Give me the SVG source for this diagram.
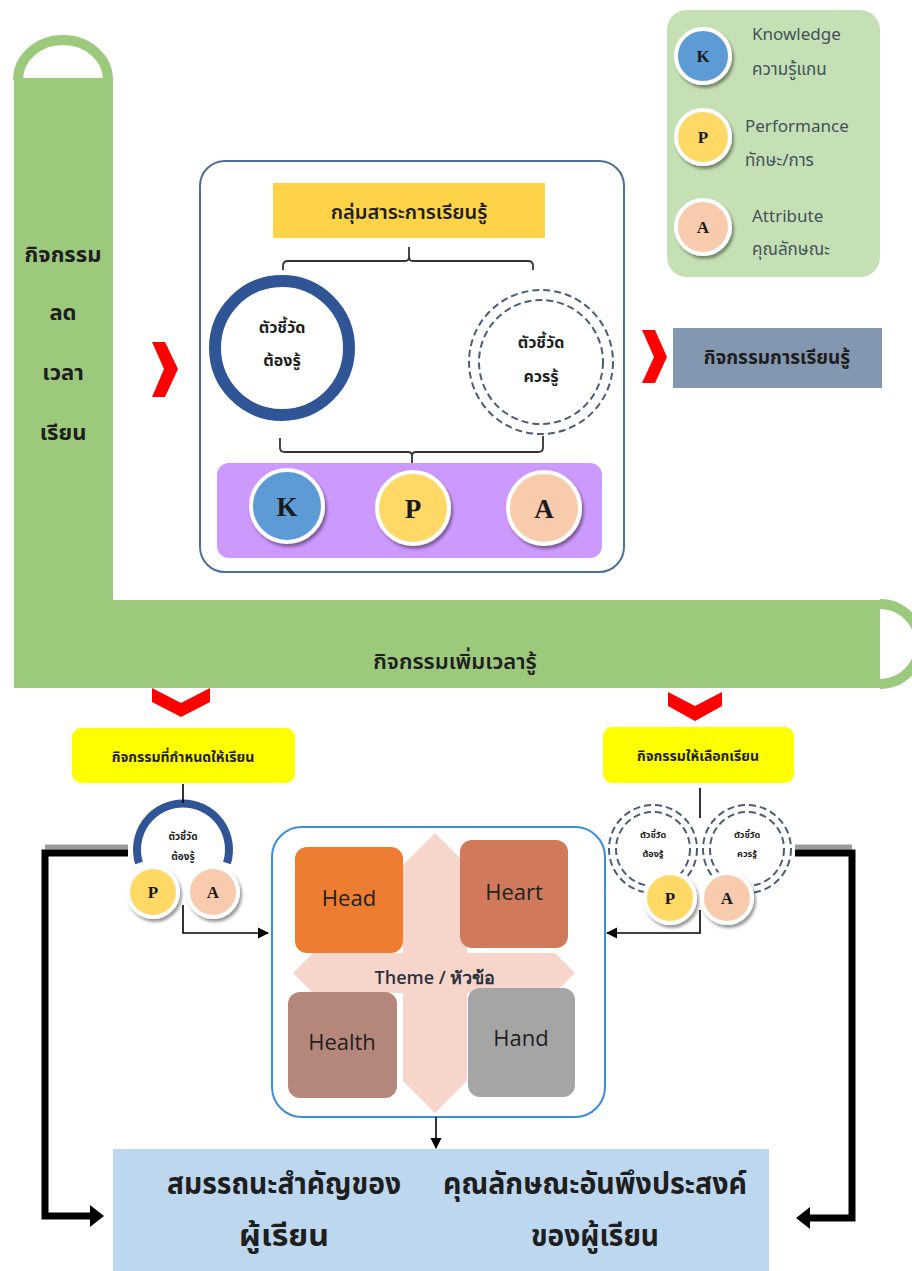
<svg xmlns="http://www.w3.org/2000/svg" width="912" height="1271" viewBox="0 0 912 1271">
<defs>
<style>
.th{font-family:"Noto Sans Thai","Noto Sans","DejaVu Sans",sans-serif;fill:#1e1e1e;text-anchor:middle}
.b{font-weight:bold}
.leg{font-family:"Noto Sans Thai","Open Sans","Noto Sans","DejaVu Sans",sans-serif;fill:#44505c;font-size:17px}
.ltr{font-family:"Liberation Serif",serif;font-size:27px;font-weight:bold;fill:#1a1a1a;text-anchor:middle}
.ltrs{font-family:"Liberation Serif",serif;font-size:17px;font-weight:bold;fill:#1a1a1a;text-anchor:middle}
.sq{font-family:"Open Sans","Liberation Sans",sans-serif;font-size:22px;fill:#1f1f1f;text-anchor:middle}
.kc{stroke:#fff;stroke-width:4;filter:url(#sh)}
.dash{fill:none;stroke:#4a5d78;stroke-width:2;stroke-dasharray:7 4}
.thin{fill:none;stroke:#000;stroke-width:1.6}
.thick{fill:none;stroke:#000;stroke-width:7}
.shade{fill:none;stroke:#9a9a9a;stroke-width:5}
.brk{fill:none;stroke:#333;stroke-width:1.8}
</style>
<filter id="sh" x="-30%" y="-30%" width="160%" height="160%">
<feDropShadow dx="2" dy="3" stdDeviation="1.5" flood-color="#000" flood-opacity="0.4"/>
</filter>
<marker id="ah" viewBox="0 0 10 10" refX="9" refY="5" markerWidth="7" markerHeight="7" orient="auto">
<path d="M0,0 L10,5 L0,10 z" fill="#000"/>
</marker>
</defs>

<g id="green-frame">
<path d="M14,78 L14,688 L880,688 L880,600 L113,600 L113,78 Z" fill="#9cc97c"/>
<path d="M18,80 A45,40 0 0 1 108,80" fill="none" stroke="#9cc97c" stroke-width="10"/>
<path d="M880,604 A40,40 0 0 1 880,684" fill="none" stroke="#9cc97c" stroke-width="10"/>
<text class="th b" font-size="22" x="63" y="262">กิจกรรม</text>
<text class="th b" font-size="22" x="63" y="320">ลด</text>
<text class="th b" font-size="22" x="63" y="380">เวลา</text>
<text class="th b" font-size="22" x="63" y="440">เรียน</text>
<text class="th" font-size="22" font-weight="600" x="455" y="669">กิจกรรมเพิ่มเวลารู้</text>
</g>

<g id="legend">
<rect x="667" y="10" width="213" height="267" rx="20" fill="#c5e0b4"/>
<circle class="kc" cx="703" cy="56" r="27" fill="#5b9bd5"/>
<text class="ltrs" x="703" y="62">K</text>
<circle class="kc" cx="703" cy="137" r="27" fill="#ffd966"/>
<text class="ltrs" x="703" y="143">P</text>
<circle class="kc" cx="703" cy="227" r="27" fill="#f8cbad"/>
<text class="ltrs" x="703" y="233">A</text>
<text class="leg" x="752" y="40">Knowledge</text>
<text class="leg" x="752" y="75">ความรู้แกน</text>
<text class="leg" x="745" y="132">Performance</text>
<text class="leg" x="745" y="166">ทักษะ/การ</text>
<text class="leg" x="752" y="222">Attribute</text>
<text class="leg" x="752" y="255">คุณลักษณะ</text>
</g>

<g id="main-box">
<rect x="200" y="161" width="424" height="411" rx="25" fill="#fff" stroke="#4a6f98" stroke-width="2"/>
</g>

<g id="subject-group">
<rect x="273" y="183" width="272" height="55" fill="#ffd347"/>
<text class="th" font-size="20" font-weight="600" x="409" y="219">กลุ่มสาระการเรียนรู้</text>
</g>

<g id="indicator-must">
<circle cx="282" cy="348" r="67" fill="#fff" stroke="#2f5597" stroke-width="12"/>
<text class="th b" font-size="16" x="282" y="333">ตัวชี้วัด</text>
<text class="th b" font-size="16" x="282" y="366">ต้องรู้</text>
</g>

<g id="indicator-should">
<circle class="dash" cx="541" cy="362" r="72"/>
<circle class="dash" cx="541" cy="362" r="62"/>
<text class="th b" font-size="16" x="541" y="348">ตัวชี้วัด</text>
<text class="th b" font-size="16" x="541" y="382">ควรรู้</text>
</g>

<g id="kpa">
<rect x="217" y="463" width="385" height="95" rx="12" fill="#cc99ff"/>
<circle class="kc" cx="287" cy="506" r="36" fill="#5b9bd5"/>
<text class="ltr" x="287" y="516">K</text>
<circle class="kc" cx="413" cy="508" r="36" fill="#ffd966"/>
<text class="ltr" x="413" y="518">P</text>
<circle class="kc" cx="544" cy="508" r="36" fill="#f8cbad"/>
<text class="ltr" x="544" y="518">A</text>
</g>

<g id="learning-activity">
<rect x="673" y="328" width="209" height="60" fill="#8497b0"/>
<text class="th b" font-size="19" x="777" y="364">กิจกรรมการเรียนรู้</text>
</g>

<g id="assigned-activity">
<rect x="72" y="728" width="223" height="55" rx="9" fill="#ffff00"/>
<text class="th b" font-size="14" x="183" y="762">กิจกรรมที่กำหนดให้เรียน</text>
<path d="M139,863 A46,46 0 1 1 227,863" fill="none" stroke="#2f5597" stroke-width="8"/>
<text class="th b" font-size="10" x="183" y="840">ตัวชี้วัด</text>
<text class="th b" font-size="10" x="183" y="860">ต้องรู้</text>
<circle class="kc" cx="153" cy="892" r="25" fill="#ffd966"/>
<text class="ltrs" x="153" y="898">P</text>
<circle class="kc" cx="213" cy="892" r="25" fill="#f8cbad"/>
<text class="ltrs" x="213" y="898">A</text>
</g>

<g id="elective-activity">
<rect x="603" y="727" width="191" height="56" rx="9" fill="#ffff00"/>
<text class="th b" font-size="14" x="698" y="761">กิจกรรมให้เลือกเรียน</text>
<circle class="dash" cx="653" cy="849" r="44" stroke-dasharray="5 3"/>
<circle class="dash" cx="653" cy="849" r="37" stroke-dasharray="5 3"/>
<circle class="dash" cx="747" cy="849" r="44" stroke-dasharray="5 3"/>
<circle class="dash" cx="747" cy="849" r="37" stroke-dasharray="5 3"/>
<text class="th b" font-size="9" x="653" y="838">ตัวชี้วัด</text>
<text class="th b" font-size="9" x="653" y="857">ต้องรู้</text>
<text class="th b" font-size="9" x="747" y="838">ตัวชี้วัด</text>
<text class="th b" font-size="9" x="747" y="857">ควรรู้</text>
<circle class="kc" cx="670" cy="898" r="25" fill="#ffd966"/>
<text class="ltrs" x="670" y="904">P</text>
<circle class="kc" cx="727" cy="898" r="25" fill="#f8cbad"/>
<text class="ltrs" x="727" y="904">A</text>
</g>

<g id="theme">
<rect x="272" y="827" width="333" height="290" rx="30" fill="#fff" stroke="#3a8dd8" stroke-width="2"/>
<polygon points="435,833 467,865 467,953 555,953 575,973 555,993 467,993 467,1081 435,1113 403,1081 403,993 313,993 293,973 313,953 403,953 403,865" fill="#f8d5ca"/>
<rect x="295" y="847" width="108" height="106" rx="12" fill="#ed7d31"/>
<text class="sq" x="349" y="906">Head</text>
<rect x="460" y="840" width="108" height="108" rx="12" fill="#d17a5b"/>
<text class="sq" x="514" y="900">Heart</text>
<rect x="288" y="992" width="109" height="106" rx="12" fill="#b5867b"/>
<text class="sq" x="342" y="1050">Health</text>
<rect x="468" y="988" width="107" height="109" rx="12" fill="#a5a5a5"/>
<text class="sq" x="521" y="1046">Hand</text>
<text font-family="Open Sans,Noto Sans,DejaVu Sans,sans-serif" font-size="18" font-weight="600" fill="#2a3340" text-anchor="middle" x="435" y="984">Theme / หัวข้อ</text>
</g>

<g id="outcomes">
<rect x="113" y="1149" width="656" height="122" fill="#bdd7ee"/>
<text class="th b" font-size="30" x="284" y="1194" textLength="234" lengthAdjust="spacingAndGlyphs">สมรรถนะสำคัญของ</text>
<text class="th b" font-size="30" x="284" y="1246" textLength="90" lengthAdjust="spacingAndGlyphs">ผู้เรียน</text>
<text class="th b" font-size="30" x="595" y="1194" textLength="304" lengthAdjust="spacingAndGlyphs">คุณลักษณะอันพึงประสงค์</text>
<text class="th b" font-size="30" x="595" y="1246" textLength="128" lengthAdjust="spacingAndGlyphs">ของผู้เรียน</text>
</g>

<g id="connectors">
<polygon points="152,342 165,342 178,369 165,397 152,397 164,369" fill="#ff0000"/>
<polygon points="642,330 655,330 667,357 655,383 642,383 654,357" fill="#ff0000"/>
<polygon points="152,688 181,703 210,688 210,702 181,717 152,702" fill="#ff0000"/>
<polygon points="668,692 695,706 722,692 722,706 695,721 668,706" fill="#ff0000"/>
<path class="brk" d="M409,247 V257 Q409,261 405,261 H288 Q283,261 283,266 V270 M409,257 Q409,261 413,261 H528 Q533,261 533,266 V270"/>
<path class="brk" d="M280,438 V448 Q280,452 285,452 H408 Q412,452 412,456 V463 M412,456 Q412,452 416,452 H538 Q543,452 543,448 V436"/>
<line class="thin" x1="183" y1="784" x2="183" y2="803"/>
<line class="thin" x1="700" y1="788" x2="700" y2="818"/>
<path class="thin" d="M183,905 V933 H268" marker-end="url(#ah)"/>
<path class="thin" d="M700,910 V933 H607" marker-end="url(#ah)"/>
<path class="thin" d="M436,1117 V1148" marker-end="url(#ah)"/>
<line class="shade" x1="128" y1="847" x2="45" y2="847"/>
<path class="thick" d="M128,853 H45 V1216 H92"/>
<polygon points="90,1205 104,1216 90,1227" fill="#000"/>
<line class="shade" x1="795" y1="847" x2="852" y2="847"/>
<path class="thick" d="M795,853 H852 V1218 H808"/>
<polygon points="810,1207 796,1218 810,1229" fill="#000"/>
</g>
</svg>
